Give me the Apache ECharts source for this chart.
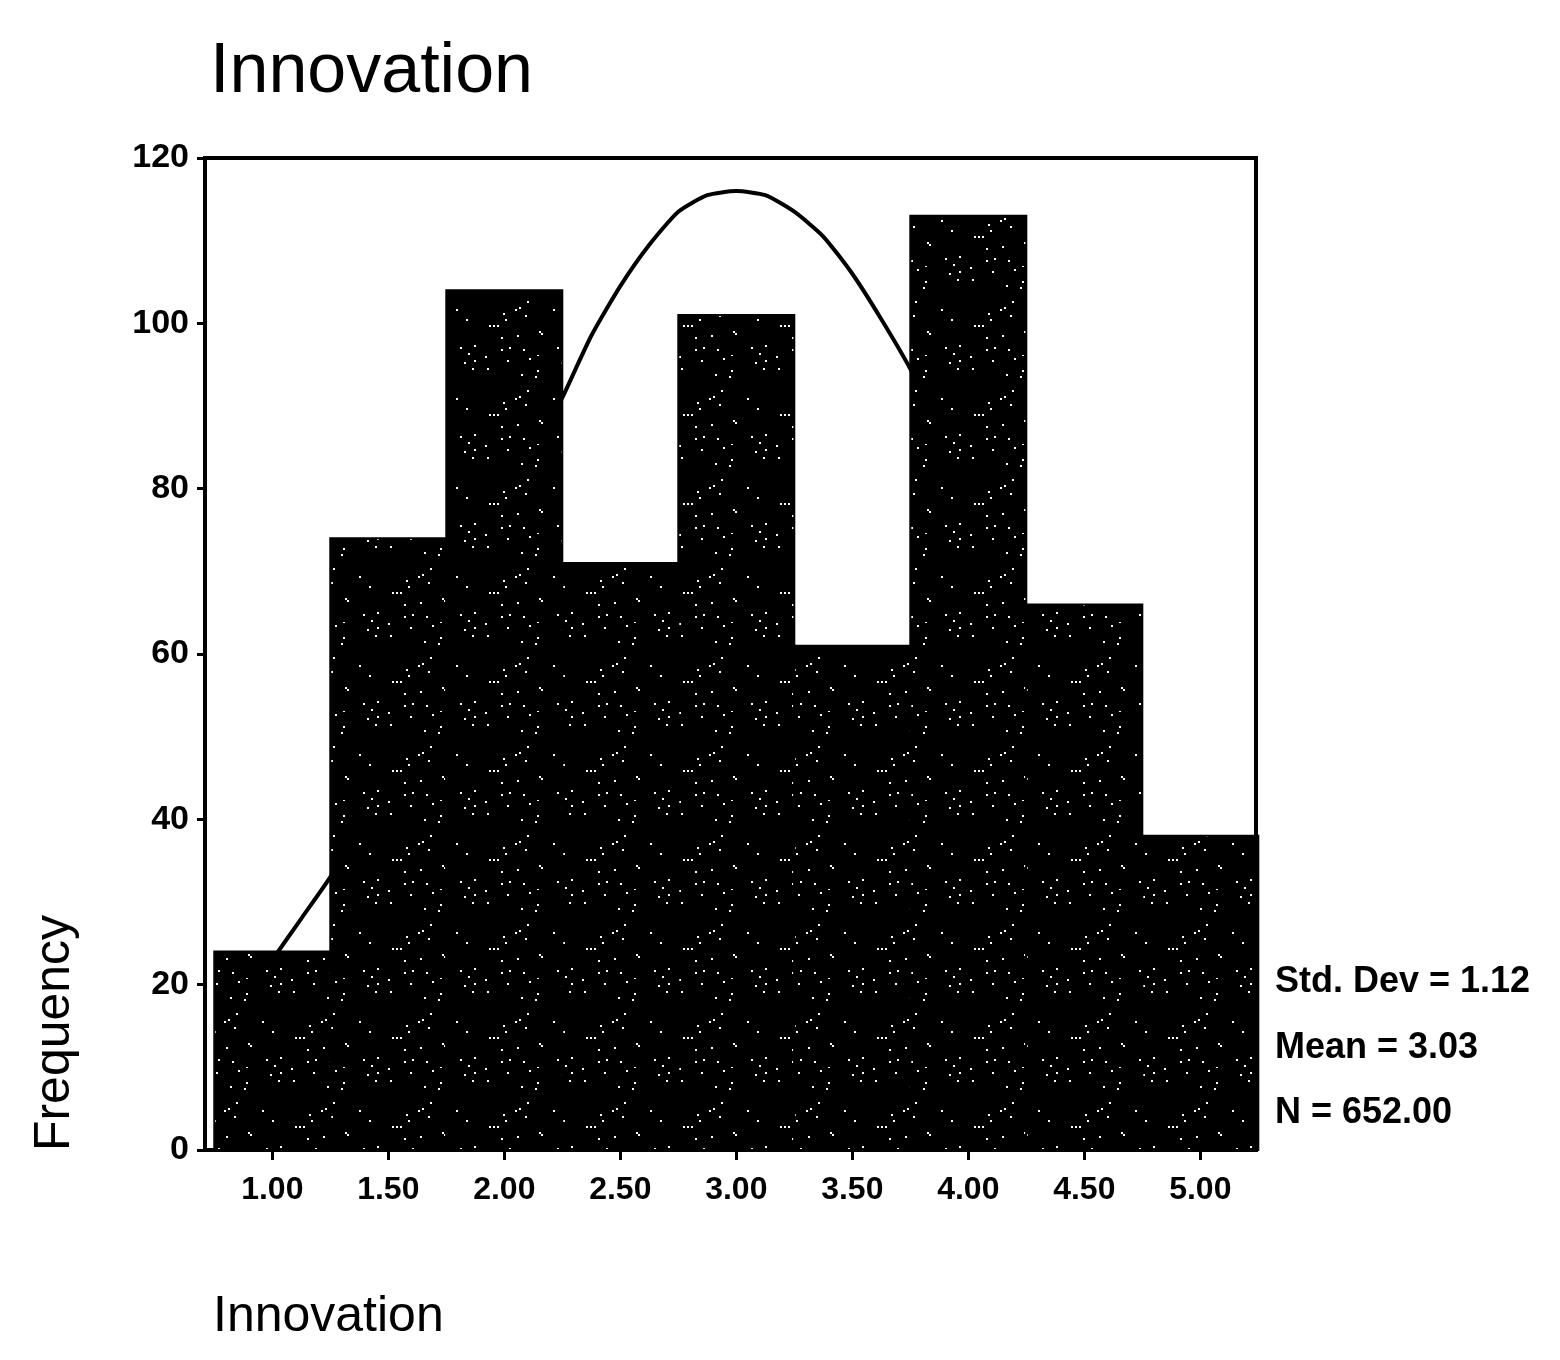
<!DOCTYPE html>
<html lang="en">
<head>
    <meta charset="UTF-8">
    <title>Innovation</title>
    <script src="https://cdn.jsdelivr.net/npm/echarts@6/dist/echarts.min.js"></script>
    <style>
        html, body { margin: 0; padding: 0; background: #fff; }
        #fig { width: 1560px; height: 1360px; }
    </style>
</head>
<body>
    <div id="fig"></div>
    <script>
        // bin midpoints and frequencies (bin width 0.5)
        let binMid = [1.00, 1.50, 2.00, 2.50, 3.00, 3.50, 4.00, 4.50, 5.00];
        let binFreq = [24, 74, 104, 71, 101, 61, 113, 66, 38];
        let binWidth = 0.5;

        // normal curve
        let curveX = [1.000, 1.125, 1.250, 1.375, 1.500, 1.625, 1.750, 1.875, 2.000, 2.125, 2.250,
                      2.375, 2.500, 2.625, 2.750, 2.875, 3.000, 3.125, 3.250, 3.375, 3.500, 3.625,
                      3.750, 3.875, 4.000, 4.125, 4.250, 4.375, 4.500, 4.625, 4.750, 4.875, 5.000];
        let curveY = [23, 28, 33, 39, 45, 52, 60, 68, 76, 84, 91,
                      98.5, 104.5, 109.5, 113.5, 115.5, 116, 115.5, 113.5, 110.5, 106, 100.5,
                      94.5, 87.5, 80, 72, 64, 56.5, 49, 42, 35, 29, 24];

        let xTickLabels = [1.00, 1.50, 2.00, 2.50, 3.00, 3.50, 4.00, 4.50, 5.00];
        let statLines = ['Std. Dev = 1.12', 'Mean = 3.03', 'N = 652.00'];

        let fontFamily = '"Liberation Sans", Arial, sans-serif';

        // speckled black fill, like the scanned bars
        function makeSpeckle () {
            let c = document.createElement('canvas');
            c.width = 97;
            c.height = 89;
            let ctx = c.getContext('2d');
            ctx.fillStyle = '#000';
            ctx.fillRect(0, 0, c.width, c.height);
            ctx.fillStyle = '#fff';
            for (let i = 0; i < c.width; i += 2) {
                for (let j = 0; j < c.height; j += 2) {
                    if ((i * 37 + j * 91 + i * j * 13) % 211 < 3) {
                        ctx.fillRect(i, j, 2, 2);
                    }
                }
            }
            return c;
        }
        let speckle = makeSpeckle();

        let fig = echarts.init(document.getElementById('fig'), null, {renderer: 'canvas'});

        let option = {
            animation: false,
            backgroundColor: '#fff',
            grid: {
                left: 205,
                right: 304,
                top: 158,
                bottom: 210,
                show: true,
                borderColor: '#000',
                borderWidth: 4,
                backgroundColor: 'transparent'
            },
            xAxis: {
                type: 'value',
                min: 0.71,
                max: 5.24,
                axisLine: { show: true, onZero: false, lineStyle: { color: '#000', width: 4 } },
                axisTick: {
                    show: true,
                    length: 10,
                    customValues: xTickLabels,
                    lineStyle: { color: '#000', width: 3 }
                },
                axisLabel: {
                    customValues: xTickLabels,
                    formatter: (v) => v.toFixed(2),
                    color: '#000',
                    fontFamily: fontFamily,
                    fontWeight: 'bold',
                    fontSize: 32,
                    margin: 24
                },
                splitLine: { show: false }
            },
            yAxis: {
                type: 'value',
                min: 0,
                max: 120,
                interval: 20,
                axisLine: { show: true, lineStyle: { color: '#000', width: 4 } },
                axisTick: { show: true, length: 8, lineStyle: { color: '#000', width: 3 } },
                axisLabel: {
                    color: '#000',
                    fontFamily: fontFamily,
                    fontWeight: 'bold',
                    fontSize: 34,
                    margin: 16
                },
                splitLine: { show: false }
            },
            series: [
                {
                    name: 'Normal',
                    type: 'line',
                    z: 2,
                    smooth: 0.2,
                    symbol: 'none',
                    lineStyle: { color: '#000', width: 4 },
                    data: curveX.map((x, i) => [x, curveY[i]])
                },
                {
                    name: 'Frequency',
                    type: 'custom',
                    z: 3,
                    clip: false,
                    renderItem: function (params, api) {
                        let x = api.value(0);
                        let v = api.value(1);
                        let p0 = api.coord([x - binWidth / 2, v]);
                        let p1 = api.coord([x + binWidth / 2, 0]);
                        return {
                            type: 'rect',
                            shape: { x: p0[0], y: p0[1], width: p1[0] - p0[0], height: p1[1] - p0[1] },
                            style: {
                                fill: { image: speckle, repeat: 'repeat' },
                                stroke: '#000',
                                lineWidth: 2
                            }
                        };
                    },
                    data: binMid.map((x, i) => [x, binFreq[i]])
                }
            ],
            graphic: [
                {
                    type: 'text',
                    left: 210,
                    top: 38,
                    style: { text: 'Innovation', font: '70px ' + fontFamily, fill: '#000' }
                },
                {
                    type: 'text',
                    left: 213,
                    top: 1292,
                    style: { text: 'Innovation', font: '50px ' + fontFamily, fill: '#000' }
                },
                {
                    type: 'text',
                    x: 55,
                    y: 1033,
                    rotation: Math.PI / 2,
                    style: {
                        text: 'Frequency',
                        font: '50px ' + fontFamily,
                        fill: '#000',
                        align: 'center',
                        verticalAlign: 'middle'
                    }
                }
            ].concat(statLines.map((t, i) => ({
                type: 'text',
                x: 1275,
                y: [982, 1048, 1113][i],
                style: {
                    text: t,
                    font: 'bold 36px ' + fontFamily,
                    fill: '#000',
                    verticalAlign: 'middle'
                }
            })))
        };

        fig.setOption(option);
    </script>
</body>
</html>
